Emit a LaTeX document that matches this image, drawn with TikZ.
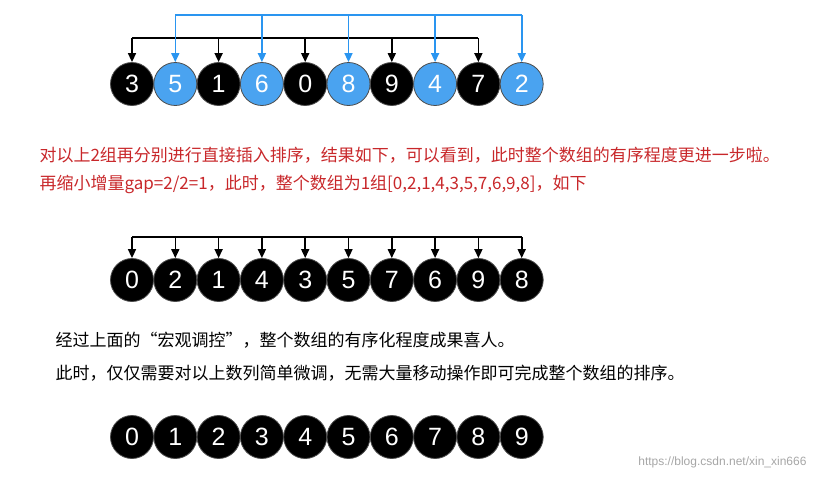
\documentclass[tikz,border=0pt]{standalone}
\usepackage{fontspec}
\setmainfont{Liberation Sans}
\newfontfamily\cjk{Noto Sans CJK SC}
\usetikzlibrary{arrows.meta}
\definecolor{ballblue}{HTML}{4AA3F0}
\definecolor{linkblue}{HTML}{2A95F0}
\definecolor{notered}{HTML}{C8272A}
\tikzset{
  ball/.style={circle, draw=black!70, line width=0.8pt, minimum size=43pt, inner sep=0pt,
    font=\fontsize{25}{25}\selectfont, text=white},
  bblack/.style={ball, fill=black},
  bblue/.style={ball, fill=ballblue},
  note/.style={anchor=west, font=\cjk\fontsize{17}{17}\selectfont},
  link/.style={-{Triangle[length=9pt,width=8pt]}, line width=1.6pt},
}
\begin{document}
\begin{tikzpicture}[x=1pt,y=-1pt]
   \useasboundingbox (0,0) rectangle (818,479);
   % Row 1: gap=2 groups
   \foreach \v [count=\i] in {3,5,1,6,0,8,9,4,7,2} {
      \pgfmathtruncatemacro{\odd}{mod(\i,2)}
      \ifnum\odd=1
         \node[bblack] (a\i) at ({132+(\i-1)*43.3},84) {\v};
      \else
         \node[bblue] (a\i) at ({132+(\i-1)*43.3},84) {\v};
      \fi
   }
   \draw[line width=1.6pt] (a1.center |- 0,38) -- (a9.center |- 0,38);
   \foreach \i in {1,3,5,7,9}
      \draw[link] (a\i.center |- 0,38) -- (a\i.north);
   \draw[line width=1.6pt, linkblue] (a2.center |- 0,15) -- (a10.center |- 0,15);
   \foreach \i in {2,4,6,8,10}
      \draw[link, linkblue] (a\i.center |- 0,15) -- (a\i.north);
   % Notes
   \node[note, text=notered] (t1) at (36,155) {对以上2组再分别进行直接插入排序，结果如下，可以看到，此时整个数组的有序程度更进一步啦。};
   \node[note, text=notered] (t2) at (36,184) {再缩小增量gap=2/2=1，此时，整个数组为1组[0,2,1,4,3,5,7,6,9,8]，如下};
   % Row 2: gap=1
   \foreach \v [count=\i] in {0,2,1,4,3,5,7,6,9,8}
      \node[bblack] (b\i) at ({132+(\i-1)*43.3},280) {\v};
   \draw[line width=1.6pt] (b1.center |- 0,237) -- (b10.center |- 0,237);
   \foreach \i in {1,...,10}
      \draw[link] (b\i.center |- 0,237) -- (b\i.north);
   \node[note] (t3) at (52,340) {经过上面的“宏观调控”，整个数组的有序化程度成果喜人。};
   \node[note] (t4) at (52,373) {此时，仅仅需要对以上数列简单微调，无需大量移动操作即可完成整个数组的排序。};
   % Row 3: sorted
   \foreach \v [count=\i] in {0,...,9}
      \node[bblack] (c\i) at ({132+(\i-1)*43.3},437) {\v};
   \node[anchor=east, text=black!35, font=\fontsize{12}{12}\selectfont] (wm) at (810,462) {https://blog.csdn.net/xin\_xin666};
\end{tikzpicture}
\end{document}
